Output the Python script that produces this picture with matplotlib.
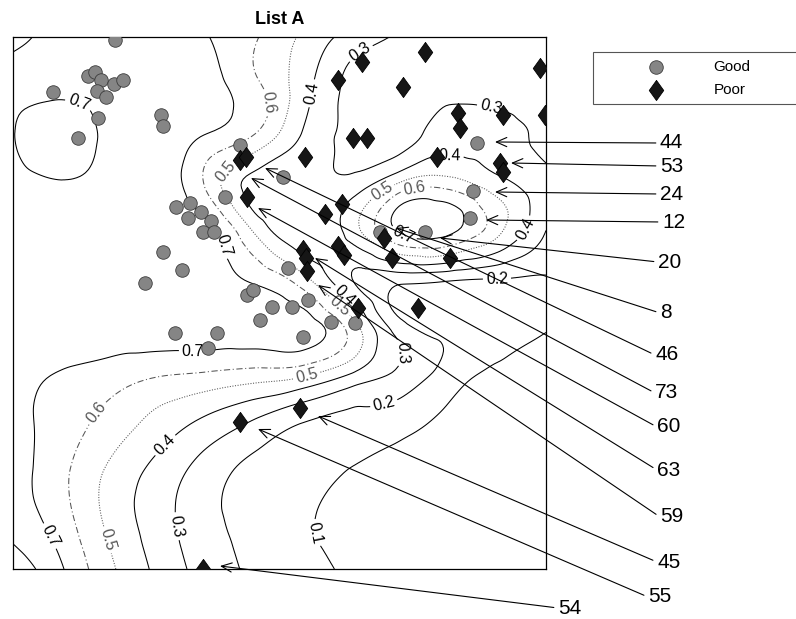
import numpy as np
import matplotlib
matplotlib.use("Agg")
import matplotlib.pyplot as plt
import matplotlib.tri as mtri

plt.rcParams['font.family'] = ['Liberation Sans', 'DejaVu Sans']

# map coordinates of the sites (easting, northing)
good_x = [102, 75, 82, 88, 84, 93, 101, 110, 40, 85, 65, 148, 150, 227, 270, 212,
          163, 177, 175, 188, 198, 190, 201, 150, 169, 132, 275, 234, 240, 259,
          279, 295, 247, 318, 342, 290, 162, 204, 195, 464, 460, 457, 412, 367]
good_y = [529, 493, 497, 489, 478, 472, 485, 489, 477, 451, 431, 454, 443, 424, 392, 372,
          362, 366, 351, 357, 348, 337, 337, 317, 299, 286, 301, 274, 279, 262,
          262, 269, 249, 247, 246, 232, 236, 236, 221, 426, 378, 351, 337, 337]

poor_x = [412, 349, 325, 390, 527, 445, 447, 490, 532, 340, 354, 424, 292, 487, 490,
          227, 233, 234, 312, 329, 290, 293, 294, 325, 331, 379, 437, 405, 345, 371,
          287, 227, 190]
poor_y = [517, 507, 489, 482, 501, 456, 441, 454, 454, 431, 431, 412, 412, 406, 397,
          409, 412, 372, 355, 365, 319, 311, 298, 323, 314, 311, 311, 261, 261, 331,
          161, 147, 0]

# interpolated surface sampled on a 12 x 12 grid (rows run north to south)
grid_x = np.linspace(0, 533, 12)
grid_y = np.linspace(532, 0, 12)
field = np.array([
    [0.83, 0.77, 0.75, 0.73, 0.703, 0.61, 0.48, 0.36, 0.29, 0.27, 0.26, 0.26],
    [0.74, 0.735, 0.74, 0.76, 0.74, 0.62, 0.44, 0.27, 0.24, 0.25, 0.24, 0.25],
    [0.705, 0.64, 0.73, 0.77, 0.70, 0.60, 0.39, 0.27, 0.25, 0.36, 0.34, 0.28],
    [0.74, 0.705, 0.74, 0.76, 0.58, 0.36, 0.33, 0.33, 0.50, 0.54, 0.43, 0.33],
    [0.77, 0.76, 0.76, 0.77, 0.74, 0.48, 0.33, 0.45, 0.72, 0.73, 0.53, 0.30],
    [0.77, 0.77, 0.76, 0.76, 0.75, 0.68, 0.53, 0.30, 0.24, 0.22, 0.20, 0.19],
    [0.77, 0.77, 0.76, 0.76, 0.76, 0.76, 0.75, 0.55, 0.24, 0.16, 0.13, 0.105],
    [0.74, 0.69, 0.65, 0.605, 0.58, 0.55, 0.51, 0.38, 0.27, 0.15, 0.08, 0.06],
    [0.74, 0.65, 0.56, 0.46, 0.37, 0.28, 0.195, 0.16, 0.13, 0.08, 0.06, 0.05],
    [0.745, 0.625, 0.48, 0.365, 0.25, 0.17, 0.13, 0.095, 0.07, 0.05, 0.04, 0.03],
    [0.76, 0.645, 0.475, 0.345, 0.228, 0.165, 0.11, 0.08, 0.06, 0.05, 0.04, 0.03],
    [0.86, 0.71, 0.52, 0.375, 0.255, 0.18, 0.125, 0.09, 0.07, 0.05, 0.04, 0.03],
])
levels = [0.1, 0.2, 0.3, 0.4, 0.5, 0.6, 0.7, 0.8]

# numbered sites: label, label position, site position
site_ids = ['44', '53', '24', '12', '20', '8', '46', '73', '60', '63', '59', '45', '55', '54']
label_x = [647, 647, 647, 649, 645, 647, 642, 642, 644, 644, 647, 644, 635, 545]
label_y = [426, 403, 375, 347, 307, 256, 214, 176, 142, 99, 52, 7, -28, -39]
tip_x = [482, 498, 482, 473, 427, 383, 252, 238, 245, 302, 305, 305, 245, 207]
tip_y = [427, 406, 377, 349, 331, 341, 401, 391, 361, 311, 284, 153, 140, 3]

# where the contour values are written
clabel_pos = [(60, 446), (204, 322), (180, 229), (35, 32), (397, 349),
              (252, 466), (84, 156), (327, 264), (402, 376),
              (209, 401), (294, 192), (94, 29), (370, 376),
              (297, 476), (437, 406), (509, 342), (150, 126), (337, 279),
              (349, 514), (479, 466), (380, 216), (159, 42),
              (484, 284), (370, 169),
              (302, 36)]

fig = plt.figure(figsize=(7.96, 6.19), dpi=100)
ax = fig.add_axes([13 / 796, 1 - 569 / 619, 533 / 796, 532 / 619])

# triangulate the grid and refine it with a cubic interpolator for smooth isolines
gx, gy = np.meshgrid(grid_x, grid_y)
ny, nx = field.shape
tris = []
for j in range(ny - 1):
    for i in range(nx - 1):
        a = j * nx + i
        tris.append([a, a + 1, a + nx])
        tris.append([a + 1, a + nx + 1, a + nx])
triang = mtri.Triangulation(gx.ravel(), gy.ravel(), np.array(tris))
refiner = mtri.UniformTriRefiner(triang)
fine_tri, fine_z = refiner.refine_field(field.ravel(), subdiv=4)

styles = ['-', '-', '-', '-', (0, (1, 1.5)), (0, (6, 2.5, 1, 2.5)), '-', '-']
colors = ['black', 'black', 'black', 'black', '#555555', '#555555', 'black', 'black']
cs = ax.tricontour(fine_tri, fine_z, levels=levels, colors=colors,
                   linewidths=0.75, linestyles=styles, zorder=1)
ax.clabel(cs, levels=levels[:-1], fmt='%.1f', fontsize=11.5, inline=True,
          inline_spacing=3, manual=clabel_pos)

diamond = [(0, 1), (0.72, 0), (0, -1), (-0.72, 0), (0, 1)]
good = ax.scatter(good_x, good_y, s=95, marker='o', facecolor='#858585',
                  edgecolor='#3c3c3c', linewidth=0.6, zorder=3, label='Good')
poor = ax.scatter(poor_x, poor_y, s=210, marker=diamond, facecolor='#161616',
                  edgecolor='black', linewidth=0.6, zorder=3, label='Poor')

for sid, lx, ly, tx, ty in zip(site_ids, label_x, label_y, tip_x, tip_y):
    ax.annotate(sid, xy=(tx, ty), xytext=(lx, ly), fontsize=15,
                ha='left', va='center', annotation_clip=False, zorder=4,
                arrowprops=dict(arrowstyle='->,head_length=0.5,head_width=0.22',
                                lw=0.8, color='black', relpos=(0, 0.5),
                                shrinkA=1, shrinkB=0))

ax.set_xlim(0, 533)
ax.set_ylim(0, 532)
ax.set_xticks([])
ax.set_yticks([])
for spine in ax.spines.values():
    spine.set_linewidth(0.9)
ax.set_title('List A', fontsize=13, fontweight='bold', pad=9)

leg = ax.legend(handles=[good, poor], loc='upper left', mode='expand',
                bbox_to_anchor=(593 / 796, 0.832, 0.30, 0.084),
                bbox_transform=fig.transFigure, fontsize=11, scatterpoints=1,
                handlelength=7.2, handletextpad=0.2, labelspacing=0.6,
                borderpad=0.5, borderaxespad=0, fancybox=False, framealpha=1)
leg.get_frame().set_edgecolor('#555555')
leg.get_frame().set_linewidth(0.8)

fig.savefig('out.png', dpi=100)
